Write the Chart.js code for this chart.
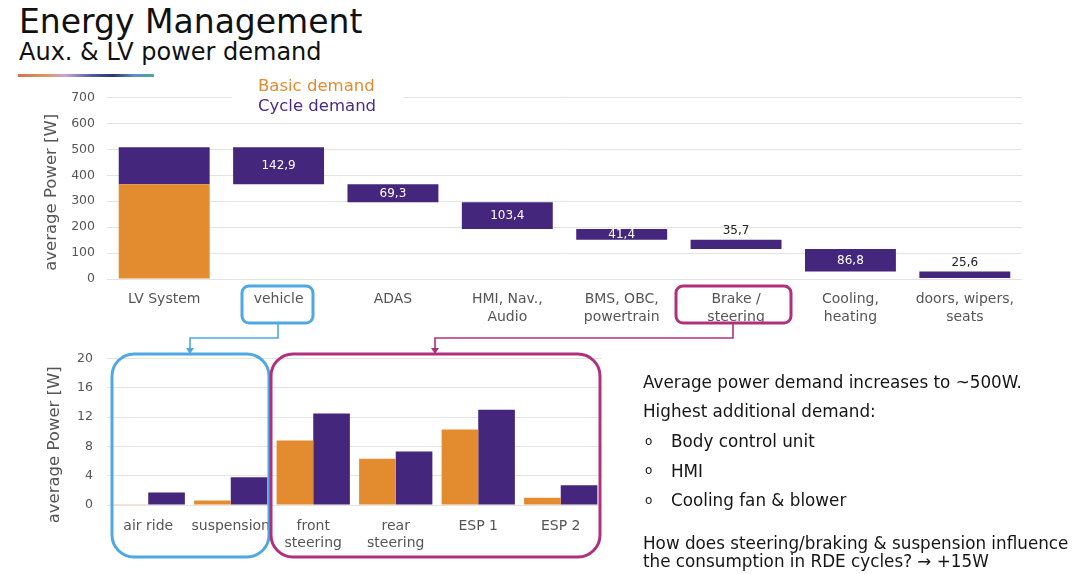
<!DOCTYPE html>
<html>
<head>
<meta charset="utf-8">
<script src="https://cdn.jsdelivr.net/npm/chart.js@4.4.1/dist/chart.umd.min.js"></script>
<style>
  body { margin: 0; background: #fff; font-family: "DejaVu Sans", Verdana, sans-serif; }
  #page { position: relative; width: 1080px; height: 574px; overflow: hidden; background: #fff; }
  .abs { position: absolute; white-space: nowrap; line-height: 1; }
  canvas { position: absolute; }
</style>
</head>
<body>
<div id="page">
  <div class="abs" style="left:19px; top:5px; font-size:33px; color:#111;">Energy Management</div>
  <div class="abs" style="left:19px; top:40px; font-size:24px; color:#111;">Aux. &amp; LV power demand</div>
  <div class="abs" style="left:18px; top:74px; width:136px; height:3px; background:linear-gradient(90deg,#d8704c 0%,#e0955c 20%,#c9a4d4 35%,#4a58a8 55%,#27386e 70%,#5a8fd2 85%,#55a88c 100%);"></div>

  <canvas id="topChart" width="1010" height="252" style="left:30px; top:78px;"></canvas>
  <canvas id="bottomChart" width="590" height="237" style="left:30px; top:337px;"></canvas>

  <div class="abs" style="left:232px; top:77px; width:172px; height:38px; background:#fff;"></div>
  <div class="abs" style="left:258px; top:78px; font-size:16.5px; color:#e38b2f;">Basic demand</div>
  <div class="abs" style="left:258px; top:98px; font-size:16.5px; color:#4b2888;">Cycle demand</div>

  <svg class="abs" width="1080" height="574" style="left:0; top:0;">
    <rect x="242" y="286" width="71" height="37" rx="7" fill="none" stroke="#4ea8e2" stroke-width="3"/>
    <path d="M278 324 V338 H190 V349" fill="none" stroke="#4ea8e2" stroke-width="1.6"/>
    <path d="M186 348 L194 348 L190 354 Z" fill="#4ea8e2"/>
    <rect x="112" y="354" width="157" height="203" rx="22" fill="none" stroke="#4ea8e2" stroke-width="3"/>

    <rect x="676" y="286" width="115" height="37" rx="7" fill="none" stroke="#b1307d" stroke-width="3"/>
    <path d="M733 324 V338 H435 V349" fill="none" stroke="#b1307d" stroke-width="1.6"/>
    <path d="M431 348 L439 348 L435 354 Z" fill="#b1307d"/>
    <rect x="271" y="354" width="329" height="203" rx="22" fill="none" stroke="#b1307d" stroke-width="3"/>
  </svg>

  <div class="abs" style="left:643px; top:374px; font-size:16.8px; color:#151515;">Average power demand increases to ~500W.</div>
  <div class="abs" style="left:643px; top:403px; font-size:16.8px; color:#151515;">Highest additional demand:</div>
  <div class="abs" style="left:645px; top:435px; font-size:12px; color:#151515;">o</div>
  <div class="abs" style="left:671px; top:433px; font-size:16.8px; color:#151515;">Body control unit</div>
  <div class="abs" style="left:645px; top:464px; font-size:12px; color:#151515;">o</div>
  <div class="abs" style="left:671px; top:463px; font-size:16.8px; color:#151515;">HMI</div>
  <div class="abs" style="left:645px; top:494px; font-size:12px; color:#151515;">o</div>
  <div class="abs" style="left:671px; top:492px; font-size:16.8px; color:#151515;">Cooling fan &amp; blower</div>
  <div class="abs" style="left:643px; top:535px; font-size:16.8px; color:#151515;">How does steering/braking &amp; suspension influence</div>
  <div class="abs" style="left:643px; top:553px; font-size:16.8px; color:#151515;">the consumption in RDE cycles? &#8594; +15W</div>
</div>

<script>
// top chart: waterfall of the LV power demand
const topCategories = [["LV System"], ["vehicle"], ["ADAS"], ["HMI, Nav.,", "Audio"], ["BMS, OBC,", "powertrain"], ["Brake /", "steering"], ["Cooling,", "heating"], ["doors, wipers,", "seats"]];
const basicDemand = 365.6;
const cycleDeltas = [142.9, 69.3, 103.4, 41.4, 35.7, 86.8, 25.6];
const topTicks = [0, 100, 200, 300, 400, 500, 600, 700];

// bottom chart: vehicle and brake/steering details
const detailCategories = [["air ride"], ["suspension"], ["front", "steering"], ["rear", "steering"], ["ESP 1"], ["ESP 2"]];
const detailBasic = [0.05, 0.6, 8.8, 6.3, 10.3, 1.0];
const detailCycle = [1.7, 3.8, 12.5, 7.3, 13.0, 2.7];
const detailTicks = [0, 4, 8, 12, 16, 20];

const ORANGE = "#e38b2f";
const PURPLE = "#45267d";
const FONT = "'DejaVu Sans', Verdana, sans-serif";
const GRID = "#e3e3e3";

// build the floating ranges from the deltas
const topOfCycle = basicDemand + cycleDeltas[0];
const basicRanges = topCategories.map((c, i) => (i === 0 ? [0, basicDemand] : null));
const cycleRanges = [[basicDemand, topOfCycle]];
let running = topOfCycle;
cycleDeltas.forEach((d) => {
    cycleRanges.push([running - d, running]);
    running -= d;
});

function fmt(v) {
    return v.toFixed(1).replace(".", ",");
}

// value labels on the waterfall bars
const waterfallLabels = {
    id: "waterfallLabels",
    afterDatasetsDraw(chart) {
        const ctx = chart.ctx;
        const meta = chart.getDatasetMeta(1);
        ctx.save();
        ctx.font = "12px " + FONT;
        ctx.textAlign = "center";
        meta.data.forEach((bar, i) => {
            if (i === 0) return;
            const h = Math.abs(bar.base - bar.y);
            const txt = fmt(cycleDeltas[i - 1]);
            if (h >= 10) {
                ctx.fillStyle = "#ffffff";
                ctx.textBaseline = "middle";
                ctx.fillText(txt, bar.x, (bar.y + bar.base) / 2 + 0.5);
            } else {
                ctx.fillStyle = "#222222";
                ctx.textBaseline = "bottom";
                ctx.fillText(txt, bar.x, Math.min(bar.y, bar.base) - 3);
            }
        });
        ctx.restore();
    },
};

// y title drawn by hand so it can sit a bit off-centre like the slide
function sideTitle(shiftY) {
    return {
        id: "sideTitle",
        afterDraw(chart) {
            const ctx = chart.ctx;
            const area = chart.chartArea;
            ctx.save();
            ctx.translate(chart.scales.y.left + 14, (area.top + area.bottom) / 2 + shiftY);
            ctx.rotate(-Math.PI / 2);
            ctx.font = "16.5px " + FONT;
            ctx.fillStyle = "#555";
            ctx.textAlign = "center";
            ctx.textBaseline = "middle";
            ctx.fillText("average Power [W]", 0, 0);
            ctx.restore();
        },
    };
}

function yAxis(max, ticks, width, pad) {
    return {
        min: 0,
        max: max,
        afterFit: (s) => { s.width = width; },
        afterBuildTicks: (s) => { s.ticks = ticks.map((v) => ({ value: v })); },
        grid: { color: GRID, drawTicks: false, lineWidth: 1 },
        border: { display: false },
        ticks: { color: "#555", font: { family: FONT, size: 12.5 }, padding: pad },
    };
}

new Chart(document.getElementById("topChart"), {
    type: "bar",
    data: {
        labels: topCategories,
        datasets: [
            { label: "Basic demand", data: basicRanges, backgroundColor: ORANGE },
            { label: "Cycle demand", data: cycleRanges, backgroundColor: PURPLE },
        ],
    },
    options: {
        responsive: false,
        animation: false,
        layout: { padding: { left: 8, right: 18, top: 0, bottom: 0 } },
        plugins: { legend: { display: false }, tooltip: { enabled: false } },
        datasets: { bar: { categoryPercentage: 1, barPercentage: 0.795, grouped: false } },
        scales: {
            x: {
                stacked: true,
                afterFit: (s) => { s.height = 51; },
                grid: { display: false },
                border: { display: false },
                ticks: { color: "#555", font: { family: FONT, size: 14, lineHeight: 1.29 }, padding: 3, maxRotation: 0, autoSkip: false },
            },
            y: yAxis(700, topTicks, 69, 12),
        },
    },
    plugins: [waterfallLabels, sideTitle(4)],
});

new Chart(document.getElementById("bottomChart"), {
    type: "bar",
    data: {
        labels: detailCategories,
        datasets: [
            { label: "Basic demand", data: detailBasic, backgroundColor: ORANGE },
            { label: "Cycle demand", data: detailCycle, backgroundColor: PURPLE },
        ],
    },
    options: {
        responsive: false,
        animation: false,
        layout: { padding: { left: 11, right: 18, top: 0, bottom: 0 } },
        plugins: { legend: { display: false }, tooltip: { enabled: false } },
        datasets: { bar: { categoryPercentage: 0.888, barPercentage: 1 } },
        scales: {
            x: {
                afterFit: (s) => { s.height = 69; },
                grid: { display: false },
                border: { display: false },
                ticks: { color: "#555", font: { family: FONT, size: 14, lineHeight: 1.21 }, padding: 5, maxRotation: 0, autoSkip: false },
            },
            y: yAxis(20, detailTicks, 66, 14),
        },
    },
    plugins: [sideTitle(13)],
});
</script>
</body>
</html>
